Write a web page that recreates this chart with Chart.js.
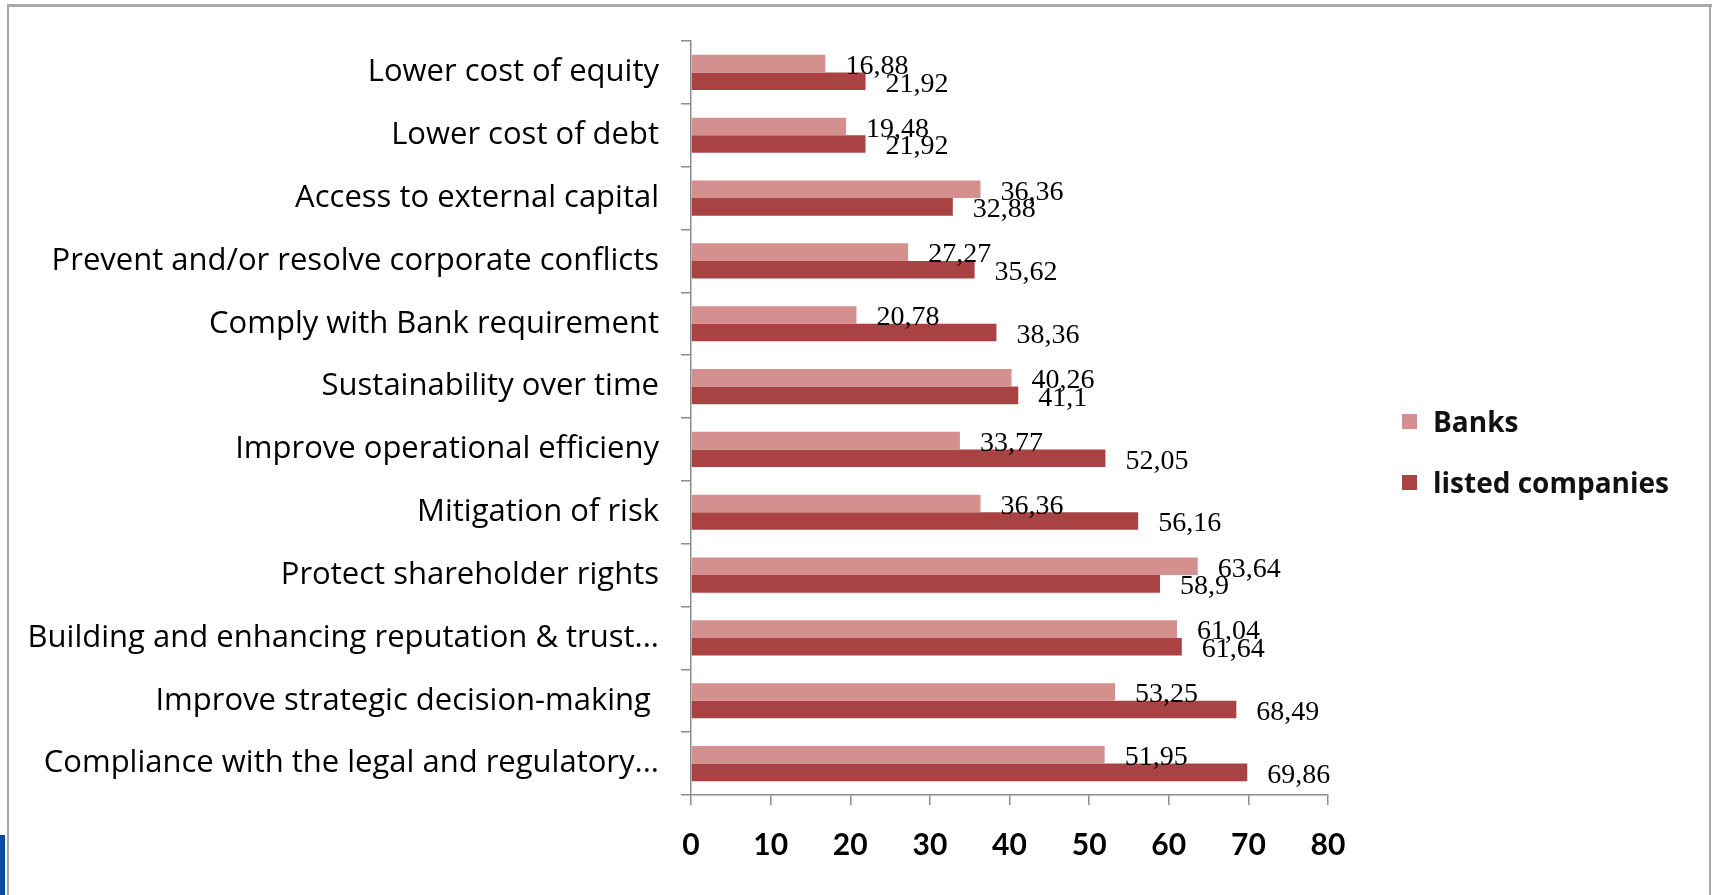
<!DOCTYPE html>
<html>
<head>
<meta charset="utf-8">
<script src="https://cdn.jsdelivr.net/npm/chart.js@4.4.1/dist/chart.umd.min.js"></script>
<style>
  html, body { margin: 0; padding: 0; background: #fff; }
  body { width: 1713px; height: 895px; position: relative; overflow: hidden; }
  #chart { position: absolute; left: 0; top: 0; }
  .frame { position: absolute; background: #a9a9a9; pointer-events: none; }
  #legend { position: absolute; left: 1402px; top: 402px; font-family: "Open Sans", sans-serif; font-weight: bold; font-size: 28px; color: #111; }
  #legend div { height: 61px; display: flex; align-items: flex-start; }
  #legend span.box { display: inline-block; width: 15px; height: 15px; margin: 12px 16px 0 0; }
</style>
</head>
<body>
<canvas id="chart" width="1713" height="895"></canvas>
<div class="frame" style="left:8px; top:4px; width:1704px; height:3px;"></div>
<div class="frame" style="left:7px; top:4px; width:2px; height:891px;"></div>
<div class="frame" style="left:1709px; top:4px; width:2px; height:891px;"></div>
<div style="position:absolute; left:0; top:835px; width:5px; height:60px; background:#0b4aa2;"></div>
<div id="legend"></div>
<script>
// Data
const categories = [
    'Lower cost of equity',
    'Lower cost of debt',
    'Access to external capital',
    'Prevent and/or resolve corporate conflicts',
    'Comply with Bank requirement',
    'Sustainability over time',
    'Improve operational efficieny',
    'Mitigation of risk',
    'Protect shareholder rights',
    'Building and enhancing reputation & trust...',
    'Improve strategic decision-making ',
    'Compliance with the legal and regulatory...'
];
const banks = [16.88, 19.48, 36.36, 27.27, 20.78, 40.26, 33.77, 36.36, 63.64, 61.04, 53.25, 51.95];
const listedCompanies = [21.92, 21.92, 32.88, 35.62, 38.36, 41.1, 52.05, 56.16, 58.9, 61.64, 68.49, 69.86];
const xTicks = [0, 10, 20, 30, 40, 50, 60, 70, 80];

const seriesNames = ['Banks', 'listed companies'];
const seriesColors = ['#d48f8f', '#a94343'];

// Value labels next to each bar end, decimal comma as in the original
const valueLabels = {
    id: 'valueLabels',
    afterDatasetsDraw(chart) {
        const ctx = chart.ctx;
        ctx.save();
        ctx.font = '28px "Liberation Serif", serif';
        ctx.fillStyle = '#000';
        ctx.textAlign = 'left';
        ctx.textBaseline = 'middle';
        chart.data.datasets.forEach((ds, i) => {
            chart.getDatasetMeta(i).data.forEach((bar, j) => {
                const text = String(ds.data[j]).replace('.', ',');
                ctx.fillText(text, bar.x + 20, bar.y + 3);
            });
        });
        ctx.restore();
    }
};

const axisColor = '#8c8c8c';

new Chart(document.getElementById('chart'), {
    type: 'bar',
    data: {
        labels: categories,
        datasets: [
            { label: seriesNames[0], data: banks, backgroundColor: seriesColors[0] },
            { label: seriesNames[1], data: listedCompanies, backgroundColor: seriesColors[1] }
        ]
    },
    options: {
        indexAxis: 'y',
        responsive: false,
        animation: false,
        events: [],
        layout: { padding: { top: 41, right: 385, bottom: 0, left: 0 } },
        datasets: { bar: { categoryPercentage: 0.56, barPercentage: 1.0 } },
        scales: {
            x: {
                min: 0,
                max: 80,
                afterBuildTicks: (scale) => { scale.ticks = xTicks.map((v) => ({ value: v })); },
                afterFit: (scale) => { scale.height = 100; },
                grid: { drawOnChartArea: false, tickLength: 10, color: axisColor, lineWidth: 1.5 },
                border: { color: axisColor, width: 1.5 },
                ticks: {
                    padding: 22,
                    color: '#000',
                    font: { family: 'Lato', size: 30, weight: 'bold' }
                }
            },
            y: {
                afterFit: (scale) => { scale.width = 691; },
                grid: { drawOnChartArea: false, offset: true, tickLength: 10, color: axisColor, lineWidth: 1.5 },
                border: { color: axisColor, width: 1.5 },
                ticks: {
                    padding: 22,
                    color: '#000',
                    autoSkip: false,
                    font: { family: 'Open Sans', size: 31 }
                }
            }
        },
        plugins: {
            legend: { display: false },
            tooltip: { enabled: false }
        }
    },
    plugins: [valueLabels]
});

// Legend on the right, as in the original
const legend = document.getElementById('legend');
seriesNames.forEach((name, i) => {
    const row = document.createElement('div');
    row.innerHTML = `<span class="box" style="background:${seriesColors[i]}"></span>${name}`;
    legend.appendChild(row);
});
</script>
</body>
</html>
